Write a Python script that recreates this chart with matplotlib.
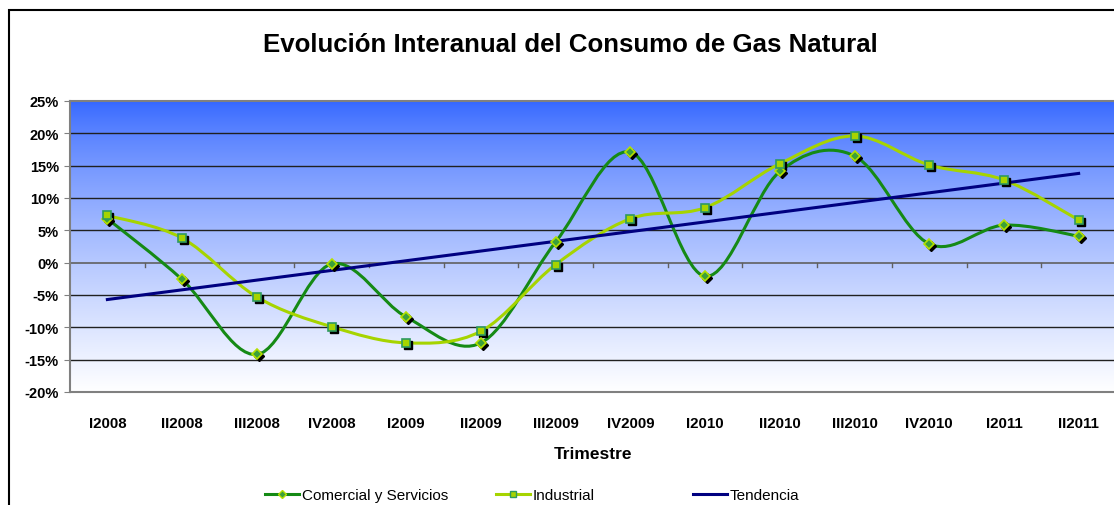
import numpy as np
import matplotlib
matplotlib.use("Agg")
import matplotlib.pyplot as plt
from matplotlib.path import Path
from matplotlib.patches import PathPatch, Rectangle
from matplotlib.lines import Line2D
from matplotlib import transforms

plt.rcParams['font.family'] = ['Liberation Sans', 'DejaVu Sans']

trimestres = ["I2008", "II2008", "III2008", "IV2008", "I2009", "II2009", "III2009",
              "IV2009", "I2010", "II2010", "III2010", "IV2010", "I2011", "II2011"]
comercial = [6.8, -2.6, -14.2, -0.2, -8.4, -12.4, 3.2, 17.1, -2.1, 14.1, 16.5, 2.9, 5.8, 4.1]
industrial = [7.3, 3.8, -5.3, -9.9, -12.4, -10.6, -0.3, 6.8, 8.5, 15.3, 19.6, 15.1, 12.8, 6.6]
# linea de tendencia (inicio y fin)
tendencia = [-5.7, 13.8]
y_ticks = [-20, -15, -10, -5, 0, 5, 10, 15, 20, 25]


def smooth_path(x, y):
    # curva suavizada tipo Excel (Catmull-Rom -> Bezier)
    p = np.column_stack([x, y]).astype(float)
    n = len(p)
    verts = [p[0]]
    codes = [Path.MOVETO]
    for i in range(n - 1):
        p0 = p[i - 1] if i > 0 else p[i]
        p1 = p[i]
        p2 = p[i + 1]
        p3 = p[i + 2] if i + 2 < n else p[i + 1]
        c1 = p1 + (p2 - p0) / 6.0
        c2 = p2 - (p3 - p1) / 6.0
        verts += [c1, c2, p2]
        codes += [Path.CURVE4] * 3
    return Path(verts, codes)


fig = plt.figure(figsize=(11.14, 5.06), dpi=100)
ax = fig.add_axes([70 / 1114, 1 - 393 / 506, 1046 / 1114, 291 / 506])

x = np.arange(len(trimestres))
xmin, xmax = -0.5, len(trimestres) - 0.5

# fondo degradado (azul arriba, blanco abajo)
grad = np.linspace(0, 1, 256).reshape(-1, 1)
top = np.array([0x33, 0x66, 0xFF]) / 255
bot = np.array([0xFF, 0xFF, 0xFF]) / 255
img = top + (bot - top) * grad[:, :, None] ** 0.75
ax.imshow(img, extent=[xmin, xmax, -20, 25], origin='upper', aspect='auto', zorder=0)
ax.set_xlim(xmin, xmax)
ax.set_ylim(-20, 25)

for v in y_ticks[1:-1]:
    if v != 0:
        ax.axhline(v, color='#202020', lw=1.0, zorder=1)
ax.axhline(0, color='#606060', lw=1.2, zorder=1)
for b in np.arange(0.5, len(trimestres) - 1, 1):
    ax.plot([b, b], [0, -0.6], color='#606060', lw=1.0, zorder=1)

for s in ['top', 'bottom', 'left']:
    ax.spines[s].set_color('#808080')
    ax.spines[s].set_linewidth(1.5)
ax.spines['right'].set_visible(False)

ax.set_yticks(y_ticks)
ax.set_yticklabels([f"{v}%" for v in y_ticks], fontsize=10.5, fontweight='bold')
ax.tick_params(axis='y', length=4, color='#808080', pad=4)
ax.set_xticks(x)
ax.set_xticklabels(trimestres, fontsize=10.8, fontweight='bold')
ax.tick_params(axis='x', length=0, pad=17)
ax.set_xlabel("Trimestre", fontsize=12.5, fontweight='bold', labelpad=12)

c_com = '#158A15'
c_ind = '#A6D400'
c_ten = '#000080'

ax.add_patch(PathPatch(smooth_path(x, comercial), fc='none', ec=c_com, lw=2.2, zorder=3))
ax.add_patch(PathPatch(smooth_path(x, industrial), fc='none', ec=c_ind, lw=2.2, zorder=3))
ax.plot([x[0], x[-1]], tendencia, color=c_ten, lw=2.2, zorder=4)

shadow = transforms.offset_copy(ax.transData, fig=fig, x=2, y=-2, units='dots')
ax.plot(x, comercial, 'D', ms=5.5, color='black', transform=shadow, zorder=5)
ax.plot(x, industrial, 's', ms=6, color='black', transform=shadow, zorder=5)
ax.plot(x, comercial, 'D', ms=5.5, mfc='#3BA03B', mec='#B5E000', mew=1.2, zorder=6)
ax.plot(x, industrial, 's', ms=6, mfc='#A6D400', mec='#2E9A60', mew=1.2, zorder=6)

fig.text(570 / 1114, 1 - 45 / 506, "Evolución Interanual del Consumo de Gas Natural",
         ha='center', va='center', fontsize=18.6, fontweight='bold')

# leyenda
entries = [
    (272, "Comercial y Servicios", Line2D([], [], color=c_com, lw=2.2, marker='D', ms=4.5,
                                         mfc='#3BA03B', mec='#B5E000')),
    (503, "Industrial", Line2D([], [], color=c_ind, lw=2.2, marker='s', ms=5,
                               mfc='#A6D400', mec='#2E9A60')),
    (700, "Tendencia", Line2D([], [], color=c_ten, lw=2.2)),
]
for px, lab, h in entries:
    fig.legend(handles=[h], labels=[lab], loc='center left',
               bbox_to_anchor=(px / 1114 - 0.006, 1 - 496 / 506), frameon=False,
               fontsize=11, handlelength=2.2, handletextpad=0.2, borderaxespad=0, borderpad=0)

fig.add_artist(Rectangle((9 / 1114, -0.1), 1.2, 1.1 - 11 / 506, transform=fig.transFigure,
                         fill=False, ec='black', lw=1.5))

fig.savefig("out.png", dpi=100)
